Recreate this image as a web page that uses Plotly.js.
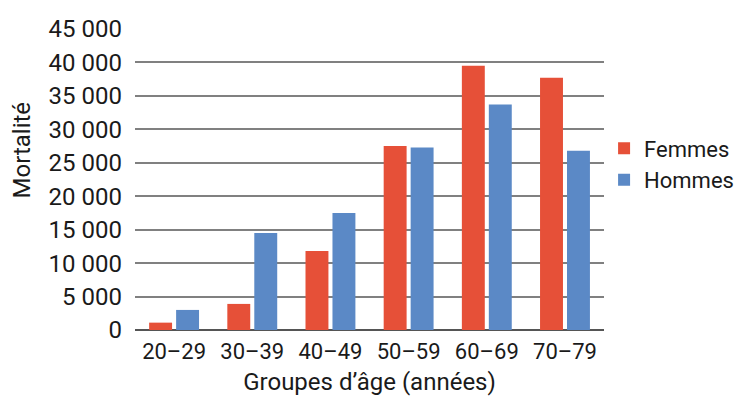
<!DOCTYPE html>
<html><head><meta charset="utf-8">
<script src="https://cdn.plot.ly/plotly-3.0.1.min.js"></script>
<style>body{margin:0;}#chart{width:734px;height:397px;}</style>
</head><body><div id="chart"></div>
<script>
const categories = ["20–29","30–39","40–49","50–59","60–69","70–79"];
const femmes = [1100, 3900, 11800, 27500, 39500, 37700];
const hommes = [3000, 14500, 17500, 27300, 33700, 26800];
const yTicks = [0,5000,10000,15000,20000,25000,30000,35000,40000,45000];
const yTickText = ["0","5 000","10 000","15 000","20 000","25 000","30 000","35 000","40 000","45 000"];

const FONT = "Roboto, 'DejaVu Sans', sans-serif";
const data = [
  {type:"bar", name:"Femmes", x:categories, y:femmes, marker:{color:"#E65038"}},
  {type:"bar", name:"Hommes", x:categories, y:hommes, marker:{color:"#5B89C6"}}
];
const layout = {
  width:734, height:397,
  margin:{l:135, r:129, t:29, b:67},
  paper_bgcolor:"#fff", plot_bgcolor:"#fff",
  font:{family:FONT, size:22, color:"#1a1a1a"},
  barmode:"group", bargap:0.31, bargroupgap:0.15,
  showlegend:true,
  legend:{xref:"container", x:0.823, y:0.55, xanchor:"left", yanchor:"middle", font:{size:22}, itemwidth:30, tracegroupgap:0, borderwidth:0},
  xaxis:{
    showgrid:false, showline:false, zeroline:false,
    tickfont:{size:22}, ticks:"", ticklabelstandoff:6,
    title:{text:"Groupes d’âge (années)", font:{size:24}, standoff:10}
  },
  yaxis:{
    range:[0,45000], tickvals:yTicks, ticktext:yTickText,
    showgrid:true, gridcolor:"#808080", gridwidth:2,
    zeroline:true, zerolinecolor:"#555", zerolinewidth:2,
    showline:false, ticks:"", ticklabelstandoff:12,
    tickfont:{size:24}
  },
  annotations:[{
    text:"Mortalité", textangle:-90, font:{size:24},
    xref:"paper", yref:"paper", x:-0.241, y:0.5, xanchor:"center", yanchor:"middle",
    yshift:30, showarrow:false
  }]
};
Plotly.newPlot("chart", data, layout, {displayModeBar:false, staticPlot:true});
</script></body></html>
